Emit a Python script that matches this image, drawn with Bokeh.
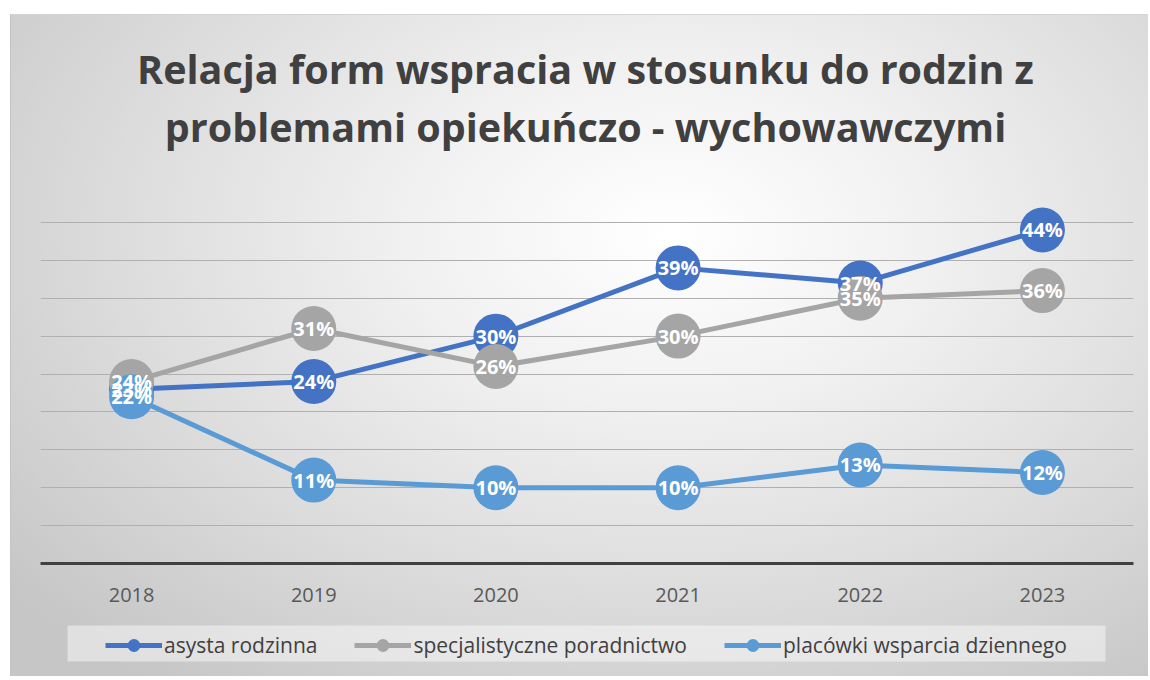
from bokeh.plotting import figure
from bokeh.layouts import column
from bokeh.models import (ColumnDataSource, FactorRange, Range1d, FixedTicker,
                          Label, Legend, LegendItem, BoxAnnotation)
from bokeh.core.properties import value
from bokeh.embed import file_html
from bokeh.resources import INLINE

years = ["2018", "2019", "2020", "2021", "2022", "2023"]
asysta = [23, 24, 30, 39, 37, 44]
specjal = [24, 31, 26, 30, 35, 36]
placowki = [22, 11, 10, 10, 13, 12]
series_names = ["asysta rodzinna", "specjalistyczne poradnictwo", "placówki wsparcia dziennego"]
series_colors = ["#4472C4", "#A5A5A5", "#5B9BD5"]
grid_ticks = [5, 10, 15, 20, 25, 30, 35, 40, 45, 50]
title_lines = ["Relacja form wspracia w stosunku do rodzin z",
               "problemami opiekuńczo - wychowawczymi"]

FONT = "Open Sans"
W = 1148
TH, PH, LH = 160, 452, 64
FL, FR = 40, 1133  # frame left/right (page px); column aligns all frames


def bare(fig):
    fig.border_fill_color = None
    fig.background_fill_color = None
    fig.outline_line_color = None
    return fig


def strip(h):
    f = bare(figure(width=W, height=h, output_backend="svg", toolbar_location=None,
                    x_range=Range1d(FL, FR), y_range=Range1d(0, h),
                    x_axis_location=None, y_axis_location=None,
                    min_border=0, min_border_left=0, min_border_right=0,
                    min_border_top=0, min_border_bottom=0))
    f.grid.visible = False
    return f


# title strip
tf = strip(TH)
for line, ty in zip(title_lines, [TH - 68, TH - 126]):
    tf.add_layout(Label(x=585, y=ty, text=line, text_align="center",
                        text_baseline="middle", text_font=FONT,
                        text_font_size="39.5px", text_font_style="bold",
                        text_color="#404040"))

# main chart
p = bare(figure(width=W, height=PH, output_backend="svg", toolbar_location=None,
                x_range=FactorRange(factors=years, range_padding=0),
                y_range=Range1d(0, 50),
                min_border_left=FL, min_border_right=W - FR,
                min_border_top=24, min_border_bottom=49))

p.yaxis.visible = False
p.ygrid.ticker = FixedTicker(ticks=grid_ticks)
p.ygrid.grid_line_color = "#b0b0b0"
p.ygrid.grid_line_width = 1
p.xgrid.grid_line_color = None

p.xaxis.axis_line_color = "#404040"
p.xaxis.axis_line_width = 3
p.xaxis.major_tick_line_color = None
p.xaxis.minor_tick_line_color = None
p.xaxis.major_label_standoff = 18
p.xaxis.major_label_text_font = FONT
p.xaxis.major_label_text_font_size = "20px"
p.xaxis.major_label_text_color = "#595959"

all_series = [asysta, specjal, placowki]
label_sources = []
for vals, col in zip(all_series, series_colors):
    src = ColumnDataSource(dict(x=years, y=vals, lab=[f"{v}%" for v in vals]))
    p.line("x", "y", source=src, line_color=col, line_width=5)
    p.scatter("x", "y", source=src, size=45, fill_color=col, line_color=None)
    label_sources.append(src)

for src in label_sources:
    p.text("x", "y", text="lab", source=src, text_color="white",
           text_font=value(FONT), text_font_style="bold", text_font_size="20px",
           text_align="center", text_baseline="middle")

# legend strip
lg = strip(LH)
lg.extra_y_ranges = {"hidden": Range1d(1000, 1001)}
lg.add_layout(BoxAnnotation(left=67, right=1105, bottom=LH - 49, top=LH - 13,
                            fill_color="white", fill_alpha=0.45, line_color=None))

items = []
for name, col, vals in zip(series_names, series_colors, all_series):
    lsrc = ColumnDataSource(dict(x=list(range(len(vals))), y=vals))
    lr = lg.line("x", "y", source=lsrc, line_color=col, line_width=5,
                 y_range_name="hidden")
    sr = lg.scatter("x", "y", source=lsrc, size=13, fill_color=col, line_color=None,
                    y_range_name="hidden")
    items.append(LegendItem(label=name, renderers=[lr, sr]))

legend = Legend(items=items, orientation="horizontal", location=(105 - FL, LH - 49),
                glyph_width=57, glyph_height=32, label_standoff=2, spacing=37,
                padding=2, margin=0,
                label_text_font=FONT, label_text_font_size="21px",
                label_text_color="#404040",
                background_fill_color=None, border_line_color=None)
lg.add_layout(legend, "center")

BG = ("linear-gradient(#c4c4c4, #c4c4c4) 10px 14px / 1px 100% no-repeat, "
      "linear-gradient(#d4d4d4, #d4d4d4) 10px 14px / 100% 1px no-repeat, "
      "radial-gradient(ellipse 75% 85% at 58% 33%, #ffffff 0%, #f1f1f1 30%, "
      "#dcdcdc 65%, #c6c6c6 100%) 10px 14px / calc(100% - 10px) calc(100% - 14px) no-repeat, #ffffff")
layout = column(tf, p, lg, spacing=0, styles={"background": BG})

open("out.html", "w").write(file_html(layout, INLINE))
